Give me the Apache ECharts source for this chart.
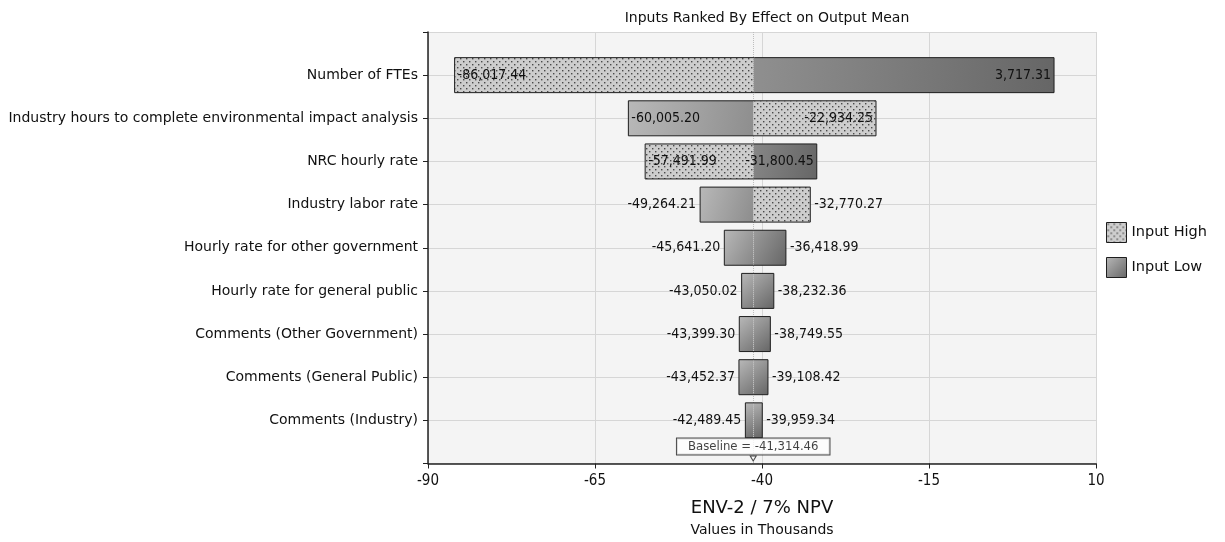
<!DOCTYPE html>
<html>
<head>
<meta charset="utf-8">
<script src="https://cdn.jsdelivr.net/npm/echarts@6/dist/echarts.min.js"></script>
<style>
  html, body { margin: 0; padding: 0; background: #fff; }
  #chart { width: 1225px; height: 542px; }
</style>
</head>
<body>
<div id="chart"></div>
<script>
// inputs, top to bottom
const categories = [
  'Number of FTEs',
  'Industry hours to complete environmental impact analysis',
  'NRC hourly rate',
  'Industry labor rate',
  'Hourly rate for other government',
  'Hourly rate for general public',
  'Comments (Other Government)',
  'Comments (General Public)',
  'Comments (Industry)'
];
// output value at the left / right end of each bar
const leftValues = [-86017.44, -60005.20, -57491.99, -49264.21, -45641.20, -43050.02, -43399.30, -43452.37, -42489.45];
const rightValues = [3717.31, -22934.25, -31800.45, -32770.27, -36418.99, -38232.36, -38749.55, -39108.42, -39959.34];
// which input setting gives each end
const leftInput = ['High', 'Low', 'High', 'Low', 'Low', 'Low', 'Low', 'Low', 'Low'];
const rightInput = ['Low', 'High', 'Low', 'High', 'Low', 'Low', 'Low', 'Low', 'Low'];
const baseline = -41314.46;
const xTicks = [-90, -65, -40, -15, 10];

const FONT = '"DejaVu Sans", sans-serif';
const NUMFONT = '"DejaVu Sans Condensed", "DejaVu Sans", sans-serif';
const BAR_H = 35;

// dotted fill for "Input High"
const tile = document.createElement('canvas');
tile.width = 6; tile.height = 6;
const tctx = tile.getContext('2d');
tctx.fillStyle = '#cdcdcd';
tctx.fillRect(0, 0, 6, 6);
tctx.fillStyle = '#4a4a4a';
tctx.fillRect(1, 1, 1.4, 1.4);
tctx.fillRect(4, 4, 1.4, 1.4);
const dotted = { image: tile, repeat: 'repeat' };

const fmt = v => v.toLocaleString('en-US', { minimumFractionDigits: 2, maximumFractionDigits: 2 });

// y categories padded with an empty slot top and bottom
const yCats = [' '].concat(categories, ['  ']);

function segData(kind) {
  const out = [];
  categories.forEach((c, i) => {
    if (leftInput[i] === kind) out.push([i + 1, leftValues[i] / 1000, baseline / 1000]);
    if (rightInput[i] === kind) out.push([i + 1, baseline / 1000, rightValues[i] / 1000]);
  });
  return out;
}

function barBox(i, api) {
  const a = api.coord([leftValues[i] / 1000, i + 1]);
  const b = api.coord([rightValues[i] / 1000, i + 1]);
  return { x0: a[0], x1: b[0], y: a[1] - BAR_H / 2 };
}

function renderSeg(kind) {
  return function (params, api) {
    const row = api.value(0);
    const p0 = api.coord([api.value(1), row]);
    const p1 = api.coord([api.value(2), row]);
    const box = barBox(row - 1, api);
    let fill;
    if (kind === 'High') {
      fill = dotted;
    } else {
      fill = new echarts.graphic.LinearGradient(box.x0, box.y, box.x1, box.y + BAR_H, [
        { offset: 0, color: '#b8b8b8' },
        { offset: 1, color: '#666666' }
      ], true);
    }
    return {
      type: 'rect',
      shape: { x: p0[0], y: p0[1] - BAR_H / 2, width: p1[0] - p0[0], height: BAR_H },
      style: { fill: fill, stroke: null }
    };
  };
}

function renderOutline(params, api) {
  const i = api.value(0) - 1;
  const box = barBox(i, api);
  const w = box.x1 - box.x0;
  const inside = w > 150;
  const cy = box.y + BAR_H / 2;
  const txt = (x, align, v) => ({
    type: 'text',
    x: x, y: cy,
    style: { text: fmt(v), textAlign: align, textVerticalAlign: 'middle', font: '14px ' + NUMFONT, fill: '#111' }
  });
  return {
    type: 'group',
    children: [
      { type: 'rect', shape: { x: box.x0, y: box.y, width: w, height: BAR_H },
        style: { fill: null, stroke: '#1e1e1e', lineWidth: 1 } },
      inside ? txt(box.x0 + 3, 'left', leftValues[i]) : txt(box.x0 - 4, 'right', leftValues[i]),
      inside ? txt(box.x1 - 3, 'right', rightValues[i]) : txt(box.x1 + 4, 'left', rightValues[i])
    ]
  };
}

const chart = echarts.init(document.getElementById('chart'));
const option = {
  animation: false,
  textStyle: { fontFamily: FONT },
  title: {
    text: 'Inputs Ranked By Effect on Output Mean',
    left: 762, top: 6, textAlign: 'center',
    textStyle: { fontSize: 14, fontWeight: 'normal', color: '#111', fontFamily: FONT }
  },
  legend: {
    orient: 'vertical',
    left: 1101, top: 217,
    itemWidth: 20, itemHeight: 20, itemGap: 14,
    icon: 'rect',
    textStyle: { fontSize: 14.5, color: '#111', fontFamily: FONT },
    data: [
      { name: 'Input High', itemStyle: { color: dotted, borderColor: '#1e1e1e', borderWidth: 1 } },
      { name: 'Input Low', itemStyle: {
        color: new echarts.graphic.LinearGradient(0, 0, 1, 1, [
          { offset: 0, color: '#b8b8b8' }, { offset: 1, color: '#666666' }]),
        borderColor: '#1e1e1e', borderWidth: 1 } }
    ]
  },
  grid: {
    left: 428, right: 129, top: 32, bottom: 75,
    show: true, backgroundColor: '#f4f4f4', borderWidth: 0
  },
  xAxis: {
    type: 'value', min: xTicks[0], max: xTicks[xTicks.length - 1], interval: 25,
    axisLine: { show: true, onZero: false, lineStyle: { color: '#222', width: 1.5 } },
    axisTick: { show: true, length: 5, lineStyle: { color: '#222' } },
    axisLabel: { fontSize: 15, color: '#111', margin: 10, fontFamily: NUMFONT },
    splitLine: { show: true, lineStyle: { color: '#d6d6d6', width: 1 } },
    name: '{a|ENV-2 / 7% NPV}\n{b|Values in Thousands}',
    nameLocation: 'middle', nameGap: 33,
    nameTextStyle: {
      rich: {
        a: { fontSize: 18, color: '#111', fontFamily: FONT, lineHeight: 23 },
        b: { fontSize: 14, color: '#111', fontFamily: FONT, lineHeight: 21 }
      }
    }
  },
  yAxis: {
    type: 'category', data: yCats, inverse: true, boundaryGap: false,
    axisLine: { show: true, onZero: false, lineStyle: { color: '#222', width: 1.5 } },
    axisTick: { show: true, length: 5, lineStyle: { color: '#222' } },
    axisLabel: { fontSize: 14, color: '#111', margin: 10, fontFamily: FONT, interval: 0 },
    splitLine: { show: true, lineStyle: { color: '#d6d6d6', width: 1 } }
  },
  series: [
    {
      name: 'Input High', type: 'custom', renderItem: renderSeg('High'),
      itemStyle: { color: dotted },
      encode: { x: [1, 2], y: 0 }, data: segData('High'), z: 3
    },
    {
      name: 'Input Low', type: 'custom', renderItem: renderSeg('Low'),
      itemStyle: { color: '#8a8a8a' },
      encode: { x: [1, 2], y: 0 }, data: segData('Low'), z: 3
    },
    {
      name: 'outline', type: 'custom', renderItem: renderOutline,
      encode: { x: [1, 2], y: 0 },
      data: categories.map((c, i) => [i + 1, leftValues[i] / 1000, rightValues[i] / 1000]),
      z: 5,
      markLine: {
        silent: true, symbol: 'none', label: { show: false },
        lineStyle: { color: '#bdbdbd', type: 'dotted', width: 1 },
        data: [{ xAxis: baseline / 1000 }]
      }
    },
    {
      name: 'baseline', type: 'scatter',
      data: [[baseline / 1000, yCats.length - 1]],
      symbol: 'triangle', symbolRotate: 180, symbolSize: [6, 5], symbolOffset: [0, -5],
      itemStyle: { color: '#fff', borderColor: '#222', borderWidth: 1 },
      z: 6,
      label: {
        show: true, position: 'top', distance: 1,
        formatter: 'Baseline = ' + fmt(baseline),
        backgroundColor: '#fff', borderColor: '#222', borderWidth: 1,
        padding: [2, 11, 1, 11], fontSize: 13, color: '#111', fontFamily: NUMFONT
      }
    }
  ]
};
chart.setOption(option);
</script>
</body>
</html>
